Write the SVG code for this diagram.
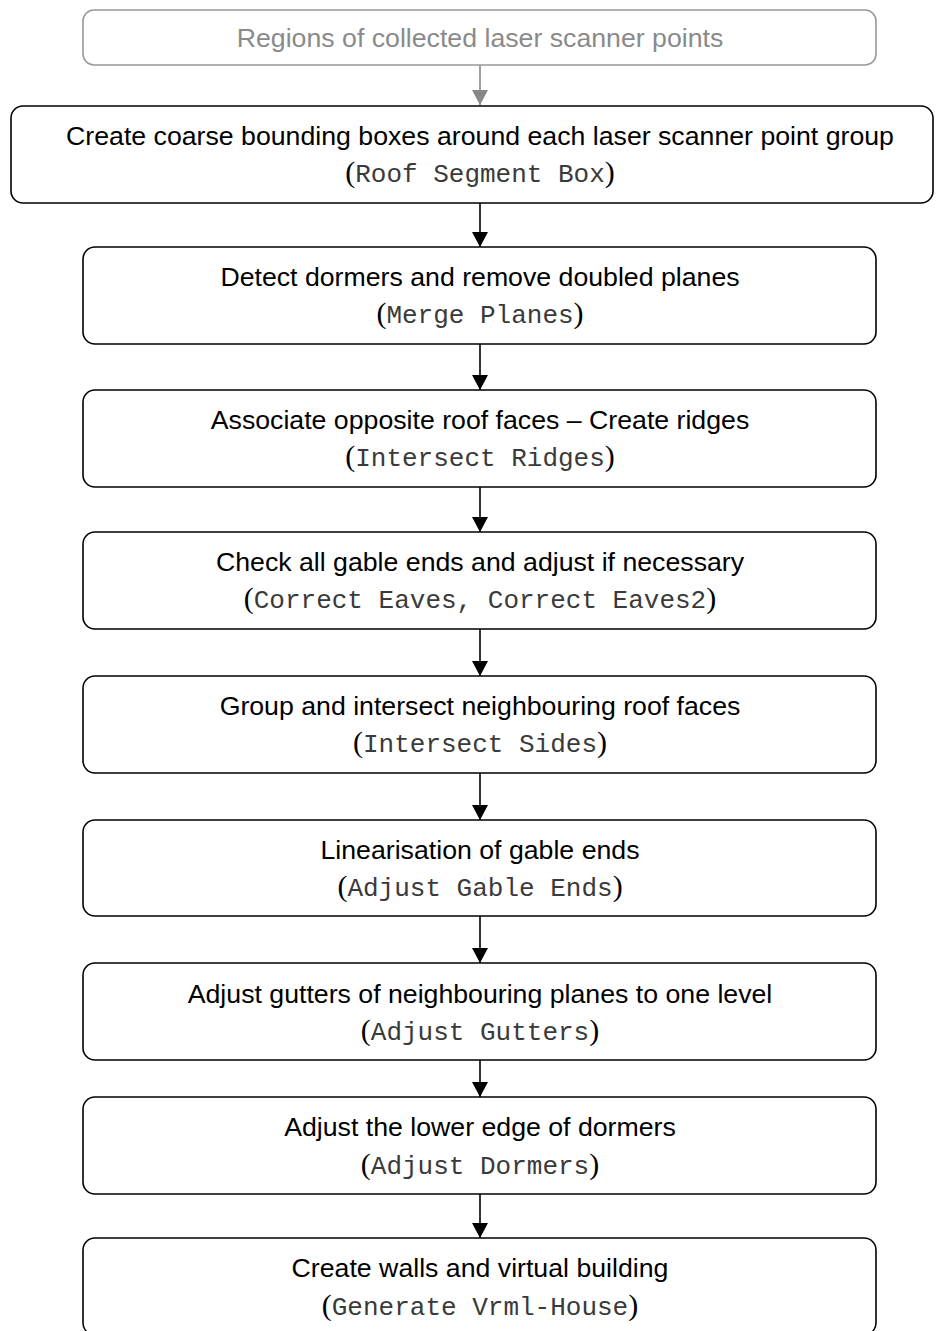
<svg xmlns="http://www.w3.org/2000/svg" width="936" height="1331" viewBox="0 0 936 1331">
<defs>
<marker id="ah" markerWidth="16" markerHeight="16" refX="15" refY="8" orient="auto" markerUnits="userSpaceOnUse"><path d="M0,0 L15,8 L0,16 Z" fill="#000"/></marker>
<marker id="ahg" markerWidth="16" markerHeight="16" refX="15" refY="8" orient="auto" markerUnits="userSpaceOnUse"><path d="M0,0 L15,8 L0,16 Z" fill="#888"/></marker>
</defs>
<style>
.box{fill:#fff;stroke:#000;stroke-width:1.6}
.gbox{fill:#fff;stroke:#999;stroke-width:1.6}
.t{font-family:"Liberation Sans",Arial,sans-serif;font-size:26.7px;text-anchor:middle;fill:#000}
.g{fill:#8a8a8a}
.p{font-family:"Liberation Serif","Times New Roman",serif;font-size:30px}
.m{font-family:"Liberation Mono","Courier New",monospace;font-size:26px;fill:#3a3a3a}
.c{stroke:#000;stroke-width:1.6;fill:none}
.cg{stroke:#8a8a8a;stroke-width:1.6;fill:none}
</style>
<rect width="936" height="1331" fill="#fff"/>
<g id="connectors">
<line class="cg" x1="480" y1="65" x2="480" y2="105" marker-end="url(#ahg)"/>
<line class="c" x1="480" y1="203" x2="480" y2="247" marker-end="url(#ah)"/>
<line class="c" x1="480" y1="344" x2="480" y2="390" marker-end="url(#ah)"/>
<line class="c" x1="480" y1="487" x2="480" y2="532" marker-end="url(#ah)"/>
<line class="c" x1="480" y1="629" x2="480" y2="676" marker-end="url(#ah)"/>
<line class="c" x1="480" y1="773" x2="480" y2="820" marker-end="url(#ah)"/>
<line class="c" x1="480" y1="916" x2="480" y2="963" marker-end="url(#ah)"/>
<line class="c" x1="480" y1="1060" x2="480" y2="1097" marker-end="url(#ah)"/>
<line class="c" x1="480" y1="1194" x2="480" y2="1238" marker-end="url(#ah)"/>
</g>
<g id="n0">
<rect class="gbox" x="83" y="10" width="793" height="55" rx="11"/>
<text class="t g" x="480" y="47">Regions of collected laser scanner points</text>
</g>
<g id="n1">
<rect class="box" x="11" y="106" width="922" height="97" rx="12"/>
<text class="t" x="480" y="145">Create coarse bounding boxes around each laser scanner point group</text>
<text class="t" x="480" y="182"><tspan class="p">(</tspan><tspan class="m">Roof Segment Box</tspan><tspan class="p">)</tspan></text>
</g>
<g id="n2">
<rect class="box" x="83" y="247" width="793" height="97" rx="12"/>
<text class="t" x="480" y="286">Detect dormers and remove doubled planes</text>
<text class="t" x="480" y="323"><tspan class="p">(</tspan><tspan class="m">Merge Planes</tspan><tspan class="p">)</tspan></text>
</g>
<g id="n3">
<rect class="box" x="83" y="390" width="793" height="97" rx="12"/>
<text class="t" x="480" y="429">Associate opposite roof faces – Create ridges</text>
<text class="t" x="480" y="466"><tspan class="p">(</tspan><tspan class="m">Intersect Ridges</tspan><tspan class="p">)</tspan></text>
</g>
<g id="n4">
<rect class="box" x="83" y="532" width="793" height="97" rx="12"/>
<text class="t" x="480" y="571">Check all gable ends and adjust if necessary</text>
<text class="t" x="480" y="608"><tspan class="p">(</tspan><tspan class="m">Correct Eaves, Correct Eaves2</tspan><tspan class="p">)</tspan></text>
</g>
<g id="n5">
<rect class="box" x="83" y="676" width="793" height="97" rx="12"/>
<text class="t" x="480" y="715">Group and intersect neighbouring roof faces</text>
<text class="t" x="480" y="752"><tspan class="p">(</tspan><tspan class="m">Intersect Sides</tspan><tspan class="p">)</tspan></text>
</g>
<g id="n6">
<rect class="box" x="83" y="820" width="793" height="96" rx="12"/>
<text class="t" x="480" y="859">Linearisation of gable ends</text>
<text class="t" x="480" y="896"><tspan class="p">(</tspan><tspan class="m">Adjust Gable Ends</tspan><tspan class="p">)</tspan></text>
</g>
<g id="n7">
<rect class="box" x="83" y="963" width="793" height="97" rx="12"/>
<text class="t" x="480" y="1003">Adjust gutters of neighbouring planes to one level</text>
<text class="t" x="480" y="1040"><tspan class="p">(</tspan><tspan class="m">Adjust Gutters</tspan><tspan class="p">)</tspan></text>
</g>
<g id="n8">
<rect class="box" x="83" y="1097" width="793" height="97" rx="12"/>
<text class="t" x="480" y="1136">Adjust the lower edge of dormers</text>
<text class="t" x="480" y="1174"><tspan class="p">(</tspan><tspan class="m">Adjust Dormers</tspan><tspan class="p">)</tspan></text>
</g>
<g id="n9">
<rect class="box" x="83" y="1238" width="793" height="97" rx="12"/>
<text class="t" x="480" y="1277">Create walls and virtual building</text>
<text class="t" x="480" y="1315"><tspan class="p">(</tspan><tspan class="m">Generate Vrml-House</tspan><tspan class="p">)</tspan></text>
</g>
</svg>
